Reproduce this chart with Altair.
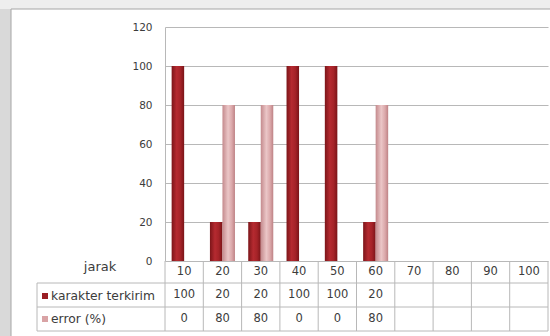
import altair as alt
import pandas as pd

# ---- data ----
jarak = ["10", "20", "30", "40", "50", "60", "70", "80", "90", "100"]
karakter_terkirim = [100, 20, 20, 100, 100, 20, None, None, None, None]
error_pct = [0, 80, 80, 0, 0, 80, None, None, None, None]
series_names = ["karakter terkirim", "error (%)"]
y_ticks = [0, 20, 40, 60, 80, 100, 120]

rows = []
for i, j in enumerate(jarak):
    rows.append({"jarak": j, "seri": series_names[0], "nilai": karakter_terkirim[i]})
    rows.append({"jarak": j, "seri": series_names[1], "nilai": error_pct[i]})
df = pd.DataFrame(rows)
df["label"] = df["nilai"].apply(lambda v: "" if pd.isna(v) else str(int(v)))
cat_df = pd.DataFrame({"jarak": jarak})

FONT = "DejaVu Sans"
TXT = "#3c3c3c"
LINE = "#b8b8b8"
W, H = 383, 234

dark_red = alt.Gradient(
    gradient="linear", x1=0, x2=1, y1=0, y2=0,
    stops=[alt.GradientStop(color="#7c1519", offset=0),
           alt.GradientStop(color="#b52a30", offset=0.4),
           alt.GradientStop(color="#a52328", offset=0.7),
           alt.GradientStop(color="#7a1418", offset=1)])
pink = alt.Gradient(
    gradient="linear", x1=0, x2=1, y1=0, y2=0,
    stops=[alt.GradientStop(color="#c48a8d", offset=0),
           alt.GradientStop(color="#ebc6c7", offset=0.45),
           alt.GradientStop(color="#dba8aa", offset=0.75),
           alt.GradientStop(color="#be8285", offset=1)])

xscale = alt.Scale(domain=jarak, paddingInner=0, paddingOuter=0)
X = alt.X("jarak:N", sort=jarak, scale=xscale, axis=None)
XOFF = alt.XOffset("seri:N", scale=alt.Scale(domain=series_names, paddingInner=0, paddingOuter=0.53))
Y = alt.Y("nilai:Q", stack=None,
          scale=alt.Scale(domain=[0, 120], nice=False),
          axis=alt.Axis(values=y_ticks, grid=True, gridColor=LINE, domain=True,
                        domainColor=LINE, ticks=False, labelPadding=13,
                        labelFont=FONT, labelFontSize=10.5, labelColor=TXT, title=None))

one = pd.DataFrame({"k": [0]})

# page decoration (outer frame)
strip_left = alt.Chart(one).mark_rect(color="#d9d9d9").encode(
    x=alt.value(-165), x2=alt.value(-154), y=alt.value(-27), y2=alt.value(309))
strip_top = alt.Chart(one).mark_rect(color="#eeeeee").encode(
    x=alt.value(-165), x2=alt.value(385), y=alt.value(-27), y2=alt.value(-18))
frame = alt.Chart(one).mark_rect(fillOpacity=0, stroke="#a6a6a6", strokeWidth=1).encode(
    x=alt.value(-154), x2=alt.value(420), y=alt.value(-18), y2=alt.value(330))

bars_k = alt.Chart(df).transform_filter(
    (alt.datum.seri == series_names[0]) & "isValid(datum.nilai)"
).mark_bar(color=dark_red).encode(x=X, xOffset=XOFF, y=Y)
bars_e = alt.Chart(df).transform_filter(
    (alt.datum.seri == series_names[1]) & "isValid(datum.nilai)"
).mark_bar(color=pink).encode(x=X, xOffset=XOFF, y=Y)

# data table below the plot
vlines = alt.Chart(cat_df).mark_rule(color=LINE).encode(
    x=alt.X("jarak:N", sort=jarak, scale=xscale, axis=None, bandPosition=0),
    y=alt.value(H), y2=alt.value(304))
vline_end = alt.Chart(cat_df).transform_filter(alt.datum.jarak == jarak[-1]).mark_rule(color=LINE).encode(
    x=alt.X("jarak:N", sort=jarak, scale=xscale, axis=None, bandPosition=1),
    y=alt.value(H), y2=alt.value(304))
hlines = [alt.Chart(one).mark_rule(color=LINE).encode(
    x=alt.value(-128), x2=alt.value(W), y=alt.value(yy)) for yy in (256, 280, 304)]
hdr_border = alt.Chart(one).mark_rule(color=LINE).encode(
    x=alt.value(-128), y=alt.value(256), y2=alt.value(304))

cat_text = alt.Chart(cat_df).mark_text(font=FONT, fontSize=11.5, color=TXT).encode(
    x=alt.X("jarak:N", sort=jarak, scale=xscale, axis=None), y=alt.value(245), text="jarak:N")
val_k = alt.Chart(df).transform_filter(alt.datum.seri == series_names[0]).mark_text(
    font=FONT, fontSize=11.5, color=TXT).encode(x=X, y=alt.value(268), text="label:N")
val_e = alt.Chart(df).transform_filter(alt.datum.seri == series_names[1]).mark_text(
    font=FONT, fontSize=11.5, color=TXT).encode(x=X, y=alt.value(292), text="label:N")

jarak_lbl = alt.Chart(one).mark_text(font=FONT, fontSize=13, color=TXT).encode(
    x=alt.value(-65), y=alt.value(240), text=alt.value("jarak"))
hdr_k = alt.Chart(one).mark_text(font=FONT, fontSize=12.3, color=TXT, align="left").encode(
    x=alt.value(-114), y=alt.value(269), text=alt.value(series_names[0]))
hdr_e = alt.Chart(one).mark_text(font=FONT, fontSize=12.3, color=TXT, align="left").encode(
    x=alt.value(-114), y=alt.value(292), text=alt.value(series_names[1]))
sw_k = alt.Chart(one).mark_square(size=36, color="#9a1e24", opacity=1).encode(
    x=alt.value(-120), y=alt.value(269))
sw_e = alt.Chart(one).mark_square(size=36, color="#d9a3a5", opacity=1).encode(
    x=alt.value(-120), y=alt.value(292))

chart = alt.layer(
    strip_left, strip_top, frame, bars_k, bars_e, vlines, vline_end, *hlines, hdr_border,
    cat_text, val_k, val_e, jarak_lbl, hdr_k, hdr_e, sw_k, sw_e
).properties(
    width=W, height=H,
    autosize=alt.AutoSizeParams(type="none"),
    padding={"left": 165, "top": 27, "right": 2, "bottom": 75},
    background="white",
).configure_view(stroke=None)

chart.save("out.html", embed_options={"renderer": "svg", "actions": False})
